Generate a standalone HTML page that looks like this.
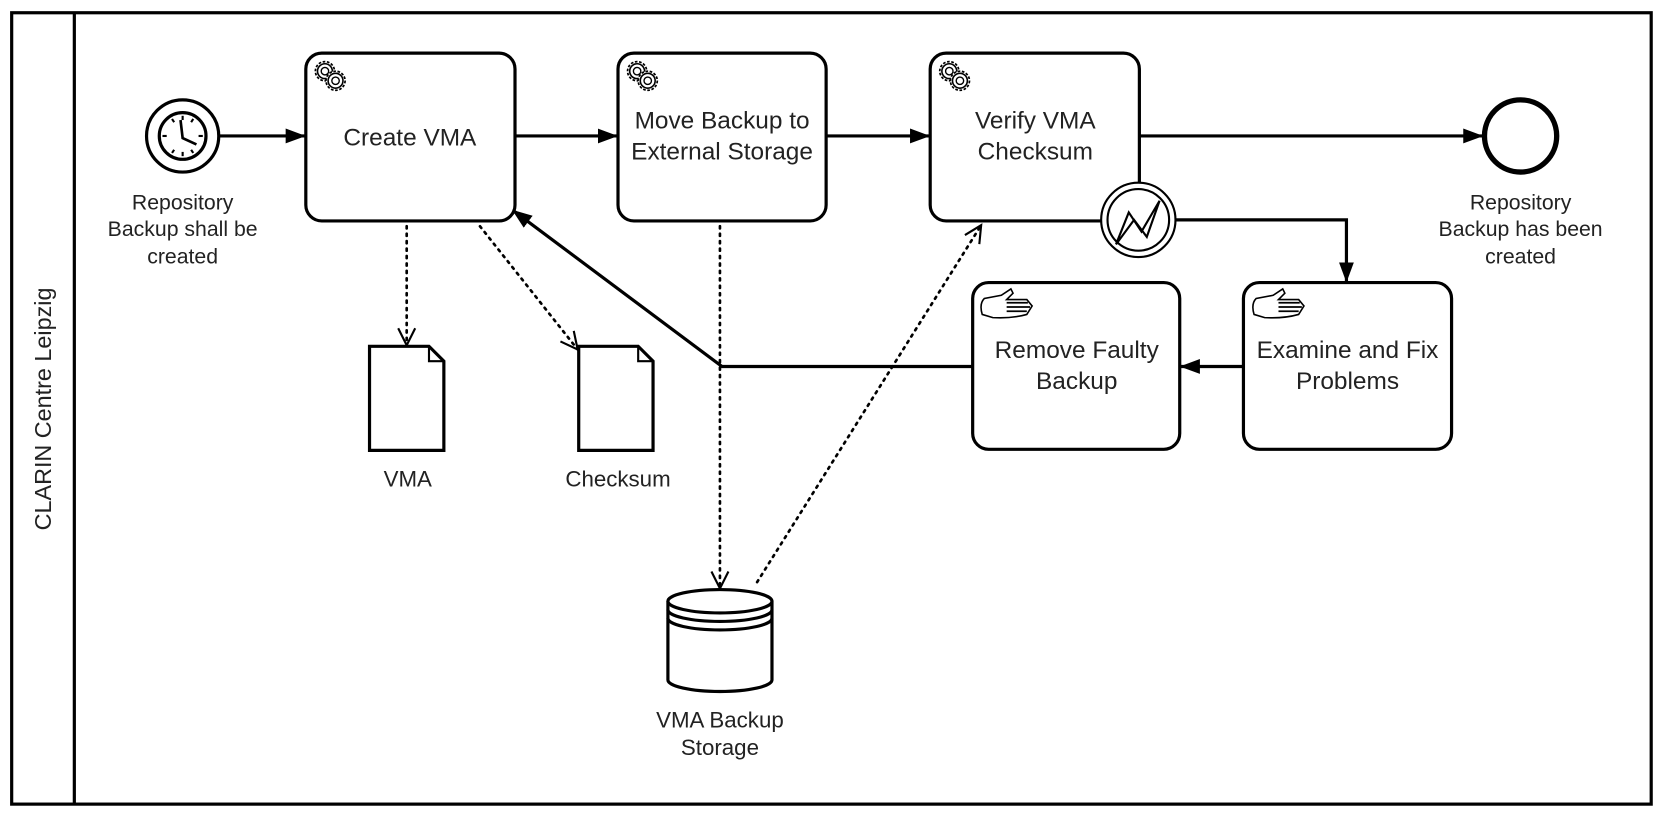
<!DOCTYPE html>
<html><head><meta charset="utf-8"><style>
html,body{margin:0;padding:0;background:#fff;}
svg{display:block;}
text{font-family:"Liberation Sans",sans-serif;fill:#222;}
</style></head><body>
<svg width="1665" height="819" viewBox="0 0 1568 771" preserveAspectRatio="none" xmlns="http://www.w3.org/2000/svg">
<defs>
<marker id="fa" markerWidth="20" markerHeight="16" refX="18" refY="8" orient="auto" markerUnits="userSpaceOnUse" viewBox="0 0 20 16"><path d="M0,1 L19,8 L0,15 z" fill="#000"/></marker>
<marker id="oa" markerWidth="20" markerHeight="20" refX="17" refY="10" orient="auto" markerUnits="userSpaceOnUse" viewBox="0 0 20 20"><path d="M1,2 L17,10 L1,18" fill="none" stroke="#000" stroke-width="2"/></marker>
<g id="gear"><circle cx="0" cy="0" r="9" fill="#fff" stroke="#000" stroke-width="1.6" stroke-dasharray="2.5 1.5"/><circle cx="0" cy="0" r="7" fill="#fff" stroke="#000" stroke-width="1.5"/><circle cx="0" cy="0" r="3.5" fill="#fff" stroke="#000" stroke-width="1.3"/></g>
<g id="gears"><use href="#gear" x="0" y="0"/><use href="#gear" x="10" y="9"/></g>
<g id="hand"><path d="M2,24 Q-1,14 4,9 L20,6 L29,0 L31,4 L25,10 L44,10 L49,16 L44,24 Q30,28 12,27 Z" fill="#fff" stroke="#000" stroke-width="1.5"/><path d="M25,13 H45 M25,17 H47 M25,21 H44" stroke="#000" stroke-width="1.6"/></g>
</defs>
<rect x="11" y="12" width="1544" height="745" fill="#fff" stroke="#000" stroke-width="3"/>
<line x1="70" y1="12" x2="70" y2="757" stroke="#000" stroke-width="3"/>
<text x="0" y="0" transform="translate(48,385) rotate(-90)" text-anchor="middle" font-size="22">CLARIN Centre Leipzig</text>

<!-- start event -->
<circle cx="172" cy="128" r="34" fill="#fff" stroke="#000" stroke-width="3"/>
<circle cx="172" cy="128" r="22" fill="#fff" stroke="#000" stroke-width="3"/>
<g stroke="#000" stroke-width="2">
<line x1="172" y1="109" x2="172" y2="113"/><line x1="172" y1="143" x2="172" y2="147"/>
<line x1="153" y1="128" x2="157" y2="128"/><line x1="187" y1="128" x2="191" y2="128"/>
<line x1="162" y1="112" x2="164" y2="115"/><line x1="182" y1="112" x2="180" y2="115"/>
<line x1="162" y1="144" x2="164" y2="141"/><line x1="182" y1="144" x2="180" y2="141"/>
<polyline points="170,113 172,130 185,136" fill="none" stroke-width="2.5"/>
</g>
<g font-size="20" text-anchor="middle"><text x="172" y="197">Repository</text><text x="172" y="222">Backup shall be</text><text x="172" y="248">created</text></g>

<!-- tasks -->
<g fill="#fff" stroke="#000" stroke-width="3">
<rect x="288" y="50" width="197" height="158" rx="15"/>
<rect x="582" y="50" width="196" height="158" rx="15"/>
<rect x="876" y="50" width="197" height="158" rx="15"/>
<rect x="916" y="266" width="195" height="157" rx="15"/>
<rect x="1171" y="266" width="196" height="157" rx="15"/>
</g>
<use href="#gears" x="306" y="67"/><use href="#gears" x="600" y="67"/><use href="#gears" x="894" y="67"/>
<use href="#hand" x="923" y="272"/><use href="#hand" x="1179" y="272"/>
<g font-size="23" text-anchor="middle">
<text x="386" y="137">Create VMA</text>
<text x="680" y="121">Move Backup to</text><text x="680" y="150">External Storage</text>
<text x="975" y="121">Verify VMA</text><text x="975" y="150">Checksum</text>
<text x="1014" y="337">Remove Faulty</text><text x="1014" y="366">Backup</text>
<text x="1269" y="337">Examine and Fix</text><text x="1269" y="366">Problems</text>
</g>

<!-- end event -->
<circle cx="1432" cy="128" r="34" fill="#fff" stroke="#000" stroke-width="5"/>
<g font-size="20" text-anchor="middle"><text x="1432" y="197">Repository</text><text x="1432" y="222">Backup has been</text><text x="1432" y="248">created</text></g>

<!-- sequence flows -->
<g stroke="#000" stroke-width="3" fill="none" marker-end="url(#fa)">
<line x1="207" y1="128" x2="287" y2="128"/>
<line x1="485" y1="128" x2="581" y2="128"/>
<line x1="778" y1="128" x2="875" y2="128"/>
<line x1="1073" y1="128" x2="1396" y2="128"/>
<polyline points="1107,207 1268,207 1268,265"/>
<line x1="1171" y1="345" x2="1112" y2="345"/>
<polyline points="916,345 680,345 483,198"/>
</g>

<!-- boundary error event -->
<circle cx="1072" cy="207" r="35" fill="#fff" stroke="#000" stroke-width="2"/>
<circle cx="1072" cy="207" r="29" fill="#fff" stroke="#000" stroke-width="2"/>
<path d="M1051,230 L1063,200 L1075,218 L1092,189 L1080,223 L1068,207 Z" fill="#fff" stroke="#000" stroke-width="2"/>

<!-- data objects -->
<g fill="#fff" stroke="#000" stroke-width="3">
<path d="M348,326 H404 L418,340 V424 H348 Z"/><path d="M404,326 V340 H418" fill="none" stroke-width="2"/>
<path d="M545,326 H601 L615,340 V424 H545 Z"/><path d="M601,326 V340 H615" fill="none" stroke-width="2"/>
</g>
<g font-size="21" text-anchor="middle"><text x="384" y="458">VMA</text><text x="582" y="458">Checksum</text></g>

<!-- datastore -->
<g fill="#fff" stroke="#000" stroke-width="3">
<path d="M629,566 V640 A49,11 0 0 0 727,640 V566"/>
<ellipse cx="678" cy="566" rx="49" ry="11"/>
<path d="M629,574 A49,11 0 0 0 727,574 M629,582 A49,11 0 0 0 727,582" fill="none"/>
</g>
<g font-size="21" text-anchor="middle"><text x="678" y="685">VMA Backup</text><text x="678" y="711">Storage</text></g>

<!-- data associations -->
<g stroke="#000" stroke-width="2.5" fill="none" stroke-dasharray="2 5" stroke-linecap="round">
<line x1="383" y1="213" x2="383" y2="325" marker-end="url(#oa)"/>
<line x1="452" y1="213" x2="544" y2="329" marker-end="url(#oa)"/>
<line x1="678" y1="213" x2="678" y2="554" marker-end="url(#oa)"/>
<line x1="713" y1="548" x2="924" y2="212" marker-end="url(#oa)"/>
</g>
</svg>
</body></html>
